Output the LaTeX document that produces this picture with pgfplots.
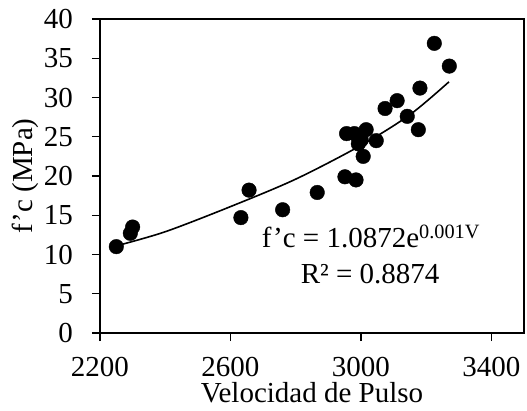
\documentclass[border=0pt]{standalone}
\usepackage{fontspec}
\setmainfont{Liberation Serif}
\usepackage{pgfplots}
\pgfplotsset{compat=1.18}
\begin{document}
\fontsize{29}{34}\selectfont
\begin{tikzpicture}
\begin{axis}[
  at={(0pt,0pt)}, anchor=origin,
  scale only axis,
  width=424pt, height=314pt,
  xmin=2200, xmax=3500, ymin=0, ymax=40,
  xtick={2200,2600,3000,3400},
  ytick={0,5,...,40},
  axis line style={line width=1.6pt},
  every tick/.style={line width=1.4pt, black},
  major tick length=8pt,
  tick align=outside,
  xtick pos=bottom, ytick pos=left,
  /pgf/number format/assume math mode=true,
  /pgf/number format/1000 sep={},
  xticklabel style={font=\fontsize{29}{34}\selectfont, anchor=base, inner sep=0pt, text depth=0pt, yshift=-35pt},
  yticklabel style={font=\fontsize{29}{34}\selectfont, anchor=east, inner sep=0pt, xshift=-19pt},
  xlabel={Velocidad de Pulso},
  ylabel={f'c (MPa)},
  xlabel style={font=\fontsize{29}{34}\selectfont, at={(axis description cs:0.5,0)}, anchor=base, inner sep=0pt, text height=19pt, text depth=0pt, yshift=-69.5pt},
  ylabel style={font=\fontsize{29}{34}\selectfont, at={(axis description cs:-0.177,0.5)}, anchor=center, inner sep=0pt},
  clip=false,
]
\addplot[only marks, mark=*, mark size=7.3pt, black] coordinates {
(2250,11.0) (2293,12.7) (2300,13.5)
(2632,14.7) (2657,18.2) (2760,15.7) (2866,17.9)
(2951,19.9) (2985,19.5)
(2956,25.4) (2980,25.4) (3016,25.9) (3001,24.6) (2992,24.1) (3047,24.5) (3007,22.5)
(3074,28.6) (3111,29.6) (3142,27.6) (3176,25.9) (3181,31.2)
(3225,36.9) (3271,34.0)
};
\addplot[smooth, black, line width=1.6pt] coordinates {
(2250,11.1) (2400,12.9) (2600,16.1) (2800,19.6) (3000,23.9) (3150,27.8) (3270,32.0)
};
\node[anchor=base, inner sep=0pt] at (rel axis cs:0.639,0.271) {f'c = 1.0872e\textsuperscript{0.001V}};
\node[anchor=base, inner sep=0pt] at (rel axis cs:0.637,0.159) {R² = 0.8874};
\end{axis}
\pgfresetboundingbox
\path (-100pt,-77pt) rectangle (427pt,333pt);
\end{tikzpicture}
\end{document}
